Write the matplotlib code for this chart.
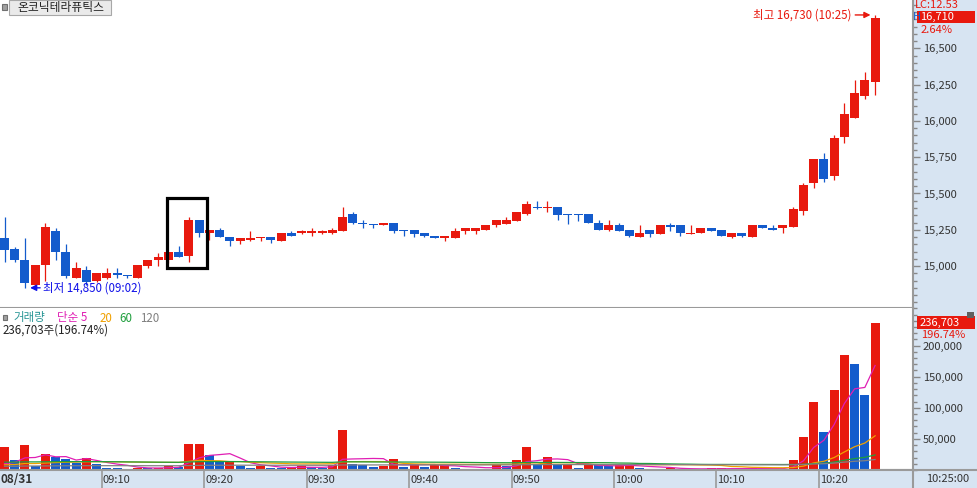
import numpy as np
import matplotlib
matplotlib.use("Agg")
import matplotlib.pyplot as plt
from matplotlib.patches import Rectangle
from matplotlib.lines import Line2D
from matplotlib.ticker import MultipleLocator, FixedLocator, FuncFormatter, NullLocator

plt.rcParams['font.family'] = ['Noto Sans CJK KR', 'DejaVu Sans']

# ---------------- data ----------------
stock_name = "온코닉테라퓨틱스"
date_label = "08/31"
session_start = 9 * 60  # 09:00, one candle per minute

opens = [15190, 15120, 15040, 14870, 15010, 15240, 15100, 14920, 14970, 14900,
         14920, 14950, 14940, 14920, 15000, 15040, 15040, 15100, 15070, 15320,
         15230, 15250, 15200, 15170, 15180, 15190, 15200, 15170, 15230, 15230,
         15230, 15230, 15230, 15240, 15360, 15300, 15290, 15280, 15300, 15250,
         15250, 15230, 15210, 15190, 15190, 15240, 15240, 15250, 15280, 15290,
         15310, 15360, 15410, 15400, 15410, 15360, 15360, 15360, 15300, 15250,
         15280, 15250, 15200, 15250, 15220, 15280, 15280, 15220, 15230, 15260,
         15250, 15200, 15230, 15200, 15280, 15260, 15260, 15270, 15380, 15570,
         15740, 15620, 15890, 16020, 16170, 16270]
highs = [15340, 15130, 15190, 15010, 15300, 15260, 15150, 15030, 15000, 14950,
         14990, 14990, 14940, 15010, 15040, 15090, 15100, 15140, 15340, 15320,
         15250, 15260, 15200, 15190, 15240, 15200, 15200, 15230, 15240, 15250,
         15260, 15250, 15260, 15410, 15370, 15320, 15290, 15300, 15300, 15250,
         15250, 15230, 15210, 15210, 15260, 15260, 15260, 15280, 15320, 15340,
         15370, 15450, 15450, 15450, 15410, 15360, 15360, 15360, 15320, 15320,
         15300, 15250, 15280, 15250, 15280, 15300, 15280, 15280, 15260, 15260,
         15250, 15230, 15230, 15280, 15280, 15280, 15280, 15410, 15570, 15740,
         15780, 15900, 16120, 16280, 16340, 16730]
lows = [15030, 15030, 14850, 14860, 14900, 15040, 14920, 14920, 14870, 14890,
        14910, 14920, 14920, 14920, 14990, 15000, 15020, 15060, 15030, 15200,
        15180, 15200, 15140, 15150, 15170, 15170, 15160, 15170, 15210, 15220,
        15210, 15220, 15220, 15240, 15290, 15260, 15260, 15280, 15230, 15210,
        15200, 15200, 15190, 15170, 15190, 15220, 15220, 15250, 15270, 15290,
        15310, 15350, 15390, 15370, 15320, 15290, 15310, 15300, 15250, 15240,
        15240, 15200, 15200, 15200, 15220, 15240, 15210, 15220, 15230, 15240,
        15210, 15190, 15200, 15200, 15260, 15250, 15230, 15270, 15350, 15540,
        15580, 15590, 15850, 16020, 16150, 16180]
closes = [15110, 15040, 14880, 15010, 15270, 15100, 14930, 14990, 14890, 14950,
          14950, 14940, 14930, 15010, 15040, 15060, 15100, 15060, 15320, 15230,
          15250, 15200, 15170, 15190, 15190, 15200, 15180, 15230, 15210, 15240,
          15240, 15240, 15250, 15340, 15300, 15290, 15280, 15300, 15240, 15240,
          15220, 15210, 15190, 15210, 15240, 15260, 15260, 15280, 15320, 15320,
          15370, 15430, 15400, 15410, 15350, 15350, 15350, 15300, 15250, 15280,
          15240, 15210, 15230, 15220, 15280, 15270, 15230, 15230, 15260, 15240,
          15210, 15230, 15210, 15280, 15260, 15250, 15280, 15390, 15560, 15740,
          15600, 15880, 16050, 16190, 16280, 16710]
volumes = [36300, 15300, 39500, 6100, 25000, 20200, 16900, 11600, 18500, 9400,
           4000, 3900, 1900, 4000, 2900, 3200, 6100, 5500, 41100, 41200,
           23400, 12600, 13000, 6100, 4000, 6100, 4000, 2700, 3500, 6100,
           5500, 3500, 7300, 63700, 8900, 7300, 5600, 5700, 16900, 5600,
           8900, 5600, 7300, 8000, 3500, 2400, 2300, 2200, 7800, 6100,
           15300, 36300, 9400, 20200, 7800, 9400, 4000, 7800, 7500, 6100,
           7800, 8000, 4000, 2400, 2000, 4000, 1200, 1000, 900, 2500,
           4000, 2400, 1200, 4000, 1200, 2400, 2000, 15300, 52400, 108900,
           60500, 128200, 184700, 170200, 120200, 236703]

ma_periods = [5, 20, 60, 120]
ma_prior_levels = [3400, 6900, 12200, 5800]   # levels carried over from the previous session
ma_colors = ['#E01EB4', '#F0A000', '#1E9E3C', '#808080']
ma_labels = ['단순 5', '20', '60', '120']

price_ticks = [15000, 15250, 15500, 15750, 16000, 16250, 16500]
volume_ticks = [50000, 100000, 150000, 200000]
time_tick_idx = [10, 20, 30, 40, 50, 60, 70, 80]

last_price_text = "16,710"
change_pct_text = "2.64%"
lc_text = "LC:12.53"
last_vol_text = "236,703"
vol_pct_text = "196.74%"
vol_info_text = "236,703주(196.74%)"
last_time_text = "10:25:00"

# ---------------- style ----------------
RED = '#E8190E'
BLUE = '#135BCC'
BAND = '#D7E4F2'
GRID = '#9A9A9A'
W, H = 978, 488

fig = plt.figure(figsize=(W / 100, H / 100), dpi=100)
fig.patch.set_facecolor('white')

def fr(x0, y0, x1, y1):
    """pixel box (top-left origin) -> figure rect"""
    return [x0 / W, 1 - y1 / H, (x1 - x0) / W, (y1 - y0) / H]

def ftext(x, y, s, **kw):
    return fig.text(x / W, 1 - y / H, s, zorder=6, **kw)

def fpatch(x0, y0, x1, y1, **kw):
    fig.patches.append(Rectangle((x0 / W, 1 - y1 / H), (x1 - x0) / W, (y1 - y0) / H,
                                 transform=fig.transFigure, **kw))

# right band background (below the axes)
fpatch(913, 0, W, H, facecolor=BAND, edgecolor='none', zorder=-5)

n = len(opens)
x = np.arange(n)
XL = (-0.44, 88.7)

# ---------------- price panel ----------------
axp = fig.add_axes(fr(0, 0, 913, 308), zorder=2)
axp.set_xlim(*XL)
axp.set_ylim(14711, 16833)
for i in range(n):
    o, h, l, c = opens[i], highs[i], lows[i], closes[i]
    col = RED if c >= o else BLUE
    axp.vlines(i, l, h, color=col, lw=0.9, zorder=2)
    lo = min(o, c)
    ht = max(abs(c - o), 7)
    axp.add_patch(Rectangle((i - 0.44, lo), 0.88, ht, facecolor=col, edgecolor='none', zorder=3))

axp.yaxis.tick_right()
axp.yaxis.set_major_locator(FixedLocator(price_ticks))
axp.yaxis.set_minor_locator(MultipleLocator(50))
axp.yaxis.set_major_formatter(FuncFormatter(lambda v, p: f"{int(v):,}"))
axp.tick_params(axis='y', which='major', direction='out', length=5, width=1, color='#888888',
                labelsize=8, labelcolor='#333333', pad=2)
axp.tick_params(axis='y', which='minor', direction='out', length=3, width=1, color='#888888')
axp.xaxis.set_major_locator(NullLocator())
for s in ['top', 'left']:
    axp.spines[s].set_visible(False)
for s in ['right', 'bottom']:
    axp.spines[s].set_color(GRID)
    axp.spines[s].set_linewidth(1.5)

# highlight box
axp.add_patch(Rectangle((15.82, 14984), 19.75 - 15.82, 15466 - 14984, facecolor='none',
                        edgecolor='black', lw=2.3, zorder=5))

# min / max annotations
imin = int(np.argmin(lows))
imax = int(np.argmax(highs))
tmin = session_start + imin
tmax = session_start + imax
axp.annotate(f"최저 {lows[imin]:,} ({tmin // 60:02d}:{tmin % 60:02d})",
             xy=(imin + 0.5, lows[imin]), xytext=(imin + 1.75, lows[imin]),
             ha='left', va='center', fontsize=8.3, color='#1010E8',
             arrowprops=dict(arrowstyle='-|>', color='#1010E8', lw=1.0, mutation_scale=9,
                             shrinkA=0, shrinkB=0))
axp.annotate(f"최고 {highs[imax]:,} ({tmax // 60:02d}:{tmax % 60:02d})",
             xy=(imax - 0.45, highs[imax]), xytext=(imax - 2.35, highs[imax]),
             ha='right', va='center', fontsize=8.3, color=RED,
             arrowprops=dict(arrowstyle='-|>', color=RED, lw=1.0, mutation_scale=9,
                             shrinkA=1, shrinkB=0))

# ---------------- volume panel ----------------
axv = fig.add_axes(fr(0, 308, 913, 470), zorder=2)
axv.set_xlim(*XL)
axv.set_ylim(0, 260500)
vcol = [RED if (i == 0 or volumes[i] >= volumes[i - 1]) else BLUE for i in range(n)]
axv.bar(x, volumes, width=0.88, color=vcol, zorder=2)

vol_arr = np.array(volumes, dtype=float)
for p, lvl, colr in zip(ma_periods, ma_prior_levels, ma_colors):
    padded = np.concatenate([np.full(p - 1, lvl), vol_arr])
    ma = np.convolve(padded, np.ones(p) / p, mode='valid')
    axv.plot(x, ma, color=colr, lw=0.9, zorder=3)

axv.yaxis.tick_right()
axv.yaxis.set_major_locator(FixedLocator(volume_ticks))
axv.yaxis.set_minor_locator(MultipleLocator(10000))
axv.yaxis.set_major_formatter(FuncFormatter(lambda v, p: f"{int(v):,}"))
axv.tick_params(axis='y', which='major', direction='out', length=5, width=1, color='#888888',
                labelsize=8, labelcolor='#333333', pad=2)
axv.tick_params(axis='y', which='minor', direction='out', length=3, width=1, color='#888888')
axv.xaxis.set_major_locator(NullLocator())
for s in ['top', 'left']:
    axv.spines[s].set_visible(False)
for s in ['right', 'bottom']:
    axv.spines[s].set_color(GRID)
    axv.spines[s].set_linewidth(1.5)

# ---------------- time band ----------------
axt = fig.add_axes(fr(0, 470, 913, 488), zorder=2)
axt.set_facecolor(BAND)
axt.set_xlim(*XL)
axt.set_ylim(0, 1)
axt.set_xticks([])
axt.set_yticks([])
for s in axt.spines.values():
    s.set_visible(False)
axt.spines['right'].set_visible(True)
axt.spines['right'].set_color(GRID)
axt.spines['right'].set_linewidth(1.5)
for i in time_tick_idx:
    t = session_start + i
    axt.axvline(i - 0.5, color=GRID, lw=1.2)
    axt.text(i - 0.4, 0.45, f"{t // 60:02d}:{t % 60:02d}", ha='left', va='center',
             fontsize=8, color='#333333')
axt.text(-0.4, 0.45, date_label, ha='left', va='center', fontsize=8.5, fontweight='bold',
         color='#333333')

# separator line across full width
fig.lines.append(Line2D([0, 1], [1 - 470 / H, 1 - 470 / H], transform=fig.transFigure,
                        color=GRID, lw=1.5, zorder=4))
ftext(948, 479, last_time_text, ha='center', va='center', fontsize=8, color='#333333')

# ---------------- header / overlays ----------------
fpatch(2, 4, 7, 10, facecolor='#A0A0A0', edgecolor='#707070', lw=0.8, zorder=5)
fpatch(9, 0, 110.5, 14.5, facecolor='#EAEAEA', edgecolor='#A8A8A8', lw=0.8, zorder=5)
ftext(60.5, 7.3, stock_name, ha='center', va='center', fontsize=8.5, color='#222222')

# price right-top box
ftext(915, 5.5, lc_text, ha='left', va='center', fontsize=8, color=RED)
ftext(913, 17, "H", ha='left', va='center', fontsize=8, color=BLUE)
fpatch(917, 11, 975, 23.3, facecolor=RED, edgecolor='none', zorder=5)
ftext(920, 17.2, last_price_text, ha='left', va='center', fontsize=8, color='white')
ftext(921, 30, change_pct_text, ha='left', va='center', fontsize=8, color=RED)

# volume right-top box
fpatch(917, 316, 975, 329, facecolor=RED, edgecolor='none', zorder=5)
ftext(920, 322.5, last_vol_text, ha='left', va='center', fontsize=8, color='white')
ftext(921, 334.5, vol_pct_text, ha='left', va='center', fontsize=8, color=RED)
fpatch(967, 312, 974, 318, facecolor='#606060', edgecolor='none', zorder=5)

# volume legend
fpatch(3, 315, 7, 320, facecolor='#A0A0A0', edgecolor='#707070', lw=0.8, zorder=5)
ftext(13, 318, "거래량", ha='left', va='center', fontsize=8.3, color='#2A9696')
leg_x = [57, 100, 119, 140]
for lx, lab, colr in zip(leg_x, ma_labels, ma_colors):
    ftext(lx, 318, lab, ha='left', va='center', fontsize=8.3, color=colr)
ftext(3, 330, vol_info_text, ha='left', va='center', fontsize=8.3, color='#222222')

fig.savefig("out.png", dpi=100)
